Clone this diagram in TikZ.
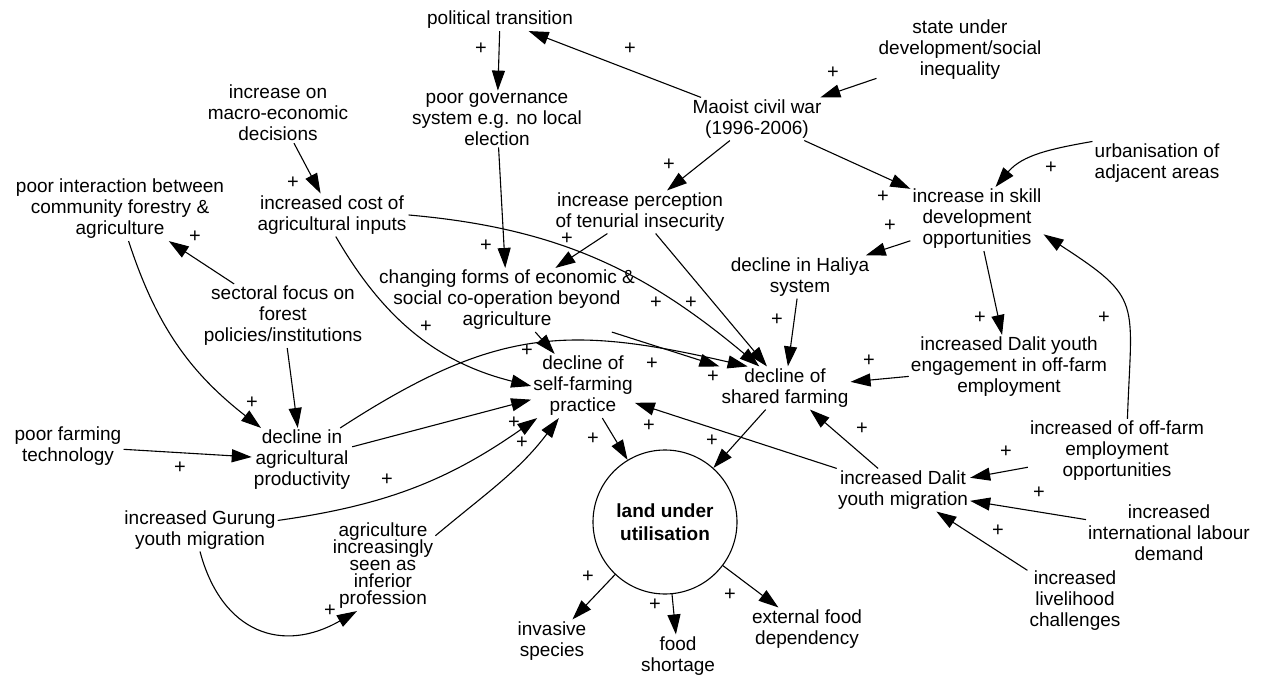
\documentclass[tikz,border=0pt]{standalone}
\usepackage{fontspec}
\setmainfont{Liberation Sans}
\usepackage{tikz}
\usetikzlibrary{arrows.meta,shapes.geometric}

\begin{document}
\begin{tikzpicture}[x=1pt, y=-1pt,
    every node/.style={align=center, inner sep=2pt, font=\fontsize{19}{21}\selectfont},
    sign/.style={inner sep=0pt, font=\fontsize{20}{20}\selectfont},
    tight/.style={font={\fontsize{19}{17}\selectfont\lineskiplimit-20pt\relax}},
    cause/.style={line width=1.1pt, -{Triangle[length=20pt,width=13pt]}}]
    \useasboundingbox (0,0) rectangle (1270,679);

    % Nodes
    \node (political-transition) at (500,20) {political transition};
    \node (state-inequality) at (960,50) {state under\\development/social\\inequality};
    \node (maoist-war) at (757,119) {Maoist civil war\\(1996-2006)};
    \node (poor-governance) at (497,119) {poor governance\\system e.g. no local\\election};
    \node (macro-decisions) at (278,113) {increase on\\macro-economic\\decisions};
    \node (poor-interaction) at (120,209) {poor interaction between\\community forestry \&\\agriculture};
    \node (cost-inputs) at (332,215) {increased cost of\\agricultural inputs};
    \node (tenurial-insecurity) at (640,212) {increase perception\\of tenurial insecurity};
    \node (skill-development) at (977,219) {increase in skill\\development\\opportunities};
    \node (urbanisation) at (1157,163) {urbanisation of\\adjacent areas};
    \node (changing-forms) at (507,300) {changing forms of economic \&\\social co-operation beyond\\agriculture};
    \node (haliya-system) at (800,277) {decline in Haliya\\system};
    \node (dalit-engagement) at (1009,367) {increased Dalit youth\\engagement in off-farm\\employment};
    \node (sectoral-focus) at (283,316) {sectoral focus on\\forest\\policies/institutions};
    \node (self-farming) at (583,386) {decline of\\self-farming\\practice};
    \node (shared-farming) at (785,388) {decline of\\shared farming};
    \node (farming-technology) at (68,446) {poor farming\\technology};
    \node (agri-productivity) at (302,460) {decline in\\agricultural\\productivity};
    \node (offfarm-opportunities) at (1117,451) {increased of off-farm\\employment\\opportunities};
    \node (dalit-migration) at (903,490) {increased Dalit\\youth migration};
    \node (labour-demand) at (1169,533) {increased\\international labour\\demand};
    \node (gurung-migration) at (200,530) {increased Gurung\\youth migration};
    \node[tight] (inferior-profession) at (383,566) {agriculture\\increasingly\\seen as\\inferior\\profession};
    \node[circle, draw, line width=1.1pt, minimum size=144pt, inner sep=0pt,
          font=\fontsize{19}{23}\selectfont\bfseries] (land-utilisation) at (665,522) {land under\\utilisation};
    \node (invasive-species) at (552,641) {invasive\\species};
    \node (food-shortage) at (678,656) {food\\shortage};
    \node (food-dependency) at (807,629) {external food\\dependency};
    \node (livelihood-challenges) at (1075,601) {increased\\livelihood\\challenges};

    % Lines
    \draw[cause] (maoist-war) -- (political-transition);
    \draw[cause] (state-inequality) -- (maoist-war);
    \draw[cause] (political-transition) -- (poor-governance);
    \draw[cause] (maoist-war) -- (tenurial-insecurity);
    \draw[cause] (maoist-war) -- (skill-development);
    \draw[cause] (urbanisation.north west) to[out=190, in=50] (skill-development.60);
    \draw[cause] (macro-decisions) -- (cost-inputs);
    \draw[cause] (poor-governance) -- (changing-forms);
    \draw[cause] (tenurial-insecurity) -- (changing-forms);
    \draw[cause] (cost-inputs.east) to[out=-5, in=140] (shared-farming);
    \draw[cause] (tenurial-insecurity.-54) -- (shared-farming);
    \draw[cause] (skill-development) -- (haliya-system);
    \draw[cause] (haliya-system) -- (shared-farming);
    \draw[cause] (skill-development) -- (dalit-engagement);
    \draw[cause] (dalit-engagement) -- (shared-farming);
    \draw[cause] (offfarm-opportunities.72) to[out=88, in=-33, looseness=1.5] (skill-development.-13);
    \draw[cause] (sectoral-focus) -- (poor-interaction);
    \draw[cause] (poor-interaction.-75) to[out=-72, in=142] (agri-productivity);
    \draw[cause] (sectoral-focus) -- (agri-productivity);
    \draw[cause] (farming-technology) -- (agri-productivity);
    \draw[cause] (agri-productivity.40) to[out=33, in=167, looseness=1.15] (shared-farming.150);
    \draw[cause] (changing-forms.-17) -- (shared-farming.north west);
    \draw[cause] (changing-forms) -- (self-farming);
    \draw[cause] (cost-inputs.-80) to[out=-60, in=166] (self-farming.west);
    \draw[cause] (agri-productivity) -- (self-farming);
    \draw[cause] (gurung-migration.7) to[out=8, in=215] (self-farming);
    \draw[cause] (inferior-profession.30) to[out=40, in=233] (self-farming);
    \draw[cause] (gurung-migration.south) to[out=-75, in=210, looseness=1.3] (inferior-profession.240);
    \draw[cause] (self-farming) -- (land-utilisation);
    \draw[cause] (shared-farming) -- (land-utilisation);
    \draw[cause] (dalit-migration) -- (self-farming);
    \draw[cause] (dalit-migration) -- (shared-farming);
    \draw[cause] (offfarm-opportunities) -- (dalit-migration);
    \draw[cause] (labour-demand) -- (dalit-migration);
    \draw[cause] (livelihood-challenges) -- (dalit-migration);
    \draw[cause] (land-utilisation) -- (invasive-species);
    \draw[cause] (land-utilisation) -- (food-shortage);
    \draw[cause] (land-utilisation) -- (food-dependency);

    % polarity signs
    \node[sign] (sign-1) at (630,49) {+};
    \node[sign] (sign-2) at (833,73) {+};
    \node[sign] (sign-3) at (481,49) {+};
    \node[sign] (sign-4) at (669,165) {+};
    \node[sign] (sign-5) at (883,197) {+};
    \node[sign] (sign-6) at (1051,168) {+};
    \node[sign] (sign-7) at (293,183) {+};
    \node[sign] (sign-8) at (486,246) {+};
    \node[sign] (sign-9) at (567,239) {+};
    \node[sign] (sign-10) at (656,303) {+};
    \node[sign] (sign-11) at (691,303) {+};
    \node[sign] (sign-12) at (890,226) {+};
    \node[sign] (sign-13) at (777,320) {+};
    \node[sign] (sign-14) at (980,318) {+};
    \node[sign] (sign-15) at (869,361) {+};
    \node[sign] (sign-16) at (1104,318) {+};
    \node[sign] (sign-17) at (195,237) {+};
    \node[sign] (sign-18) at (252,403) {+};
    \node[sign] (sign-19) at (180,468) {+};
    \node[sign] (sign-20) at (713,377) {+};
    \node[sign] (sign-21) at (652,364) {+};
    \node[sign] (sign-22) at (527,351) {+};
    \node[sign] (sign-23) at (426,327) {+};
    \node[sign] (sign-24) at (514,423) {+};
    \node[sign] (sign-25) at (387,480) {+};
    \node[sign] (sign-26) at (522,443) {+};
    \node[sign] (sign-27) at (330,611) {+};
    \node[sign] (sign-28) at (593,439) {+};
    \node[sign] (sign-29) at (712,441) {+};
    \node[sign] (sign-30) at (649,426) {+};
    \node[sign] (sign-31) at (862,429) {+};
    \node[sign] (sign-32) at (1006,452) {+};
    \node[sign] (sign-33) at (1039,493) {+};
    \node[sign] (sign-34) at (998,531) {+};
    \node[sign] (sign-35) at (588,577) {+};
    \node[sign] (sign-36) at (655,605) {+};
    \node[sign] (sign-37) at (730,595) {+};

\end{tikzpicture}
\end{document}
